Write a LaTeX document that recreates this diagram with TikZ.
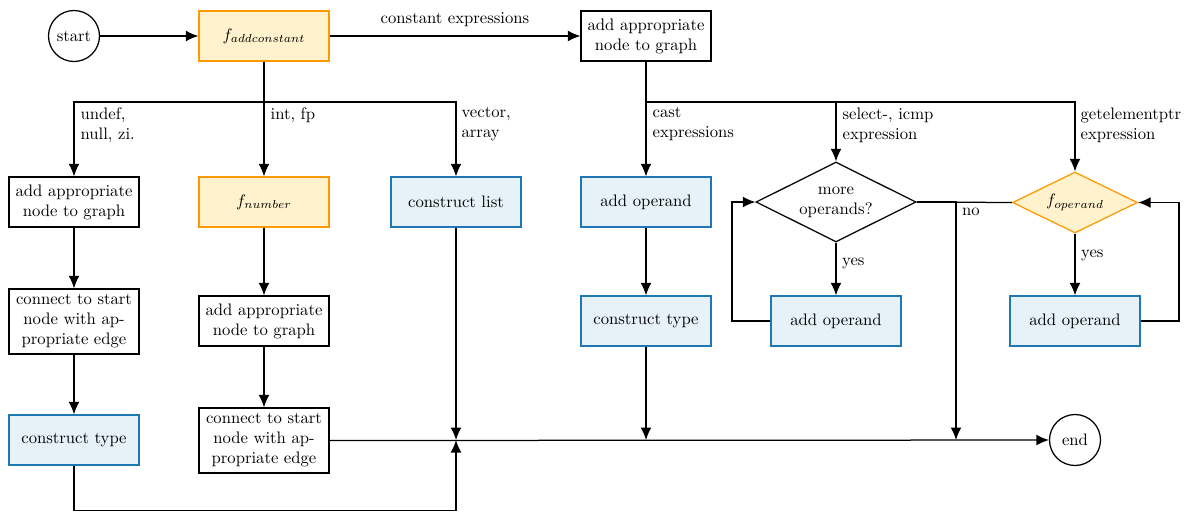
\documentclass[tikz,border=0pt]{standalone}
\usetikzlibrary{shapes.geometric,arrows.meta}
\definecolor{ofill}{RGB}{255,242,204}
\definecolor{oline}{RGB}{255,153,0}
\definecolor{bfill}{RGB}{230,242,248}
\definecolor{bline}{RGB}{31,120,180}
\begin{document}
\begin{tikzpicture}[x=0.6pt,y=-0.6pt, line width=0.75pt,
  >={Latex[length=7.5pt,width=6.5pt]},
  box/.style={draw, rectangle, minimum width=78pt, minimum height=30pt, align=center, inner sep=3pt},
  fbox/.style={box, draw=oline, fill=ofill},
  bbox/.style={box, draw=bline, fill=bfill},
  term/.style={draw, circle, minimum size=30.6pt, inner sep=1pt},
  dec/.style={draw, diamond, aspect=2, align=center, inner sep=0pt},
  lab/.style={align=left, anchor=north west, inner sep=0pt}
]
\useasboundingbox (0,0) rectangle (1189,512);
% nodes
\node[term] (start) at (74,36) {start};
\node[fbox] (fadd) at (264,36) {$f_{addconstant}$};
\node[box] (add1) at (646,36) {add appropriate\\node to graph};
\node[box] (c1a) at (74,202) {add appropriate\\node to graph};
\node[box, minimum height=39pt] (c1b) at (74,321.5) {connect to start\\node with ap-\\propriate edge};
\node[bbox] (c1c) at (74,440) {construct type};
\node[fbox] (c2a) at (264,202) {$f_{number}$};
\node[box] (c2b) at (264,321) {add appropriate\\node to graph};
\node[box, minimum height=39pt] (c2c) at (264,440.5) {connect to start\\node with ap-\\propriate edge};
\node[bbox] (c3) at (456,202) {construct list};
\node[bbox] (op1) at (646,202) {add operand};
\node[bbox] (ct) at (646,321) {construct type};
\node[dec, minimum width=96pt, minimum height=48pt] (d1) at (836,202) {more\\operands?};
\node[bbox] (op2) at (836,321) {add operand};
\node[dec, draw=oline, fill=ofill, minimum width=75pt, minimum height=36.6pt] (d2) at (1075,202.5) {$f_{operand}$};
\node[bbox] (op3) at (1075,321) {add operand};
\node[term] (end) at (1075,440) {end};
% coordinates
\coordinate (sl) at (74,102);
\coordinate (sr) at (456,102);
\coordinate (t2) at (836,102);
\coordinate (t3) at (1075,102);
\coordinate (j1) at (456,440);
\coordinate (j2) at (646,440);
\coordinate (j3) at (956,440);
\coordinate (bot) at (456,510.5);
\coordinate (lp) at (732,321);
\coordinate (rp) at (1179,321);
% connectors
\draw[->] (start) -- (fadd);
\draw[->] (fadd) -- node[above=2pt]{constant expressions} (add1);
\draw[->] (fadd.south) |- (sl) -- (c1a);
\draw[->] (fadd) -- (c2a);
\draw[->] (fadd.south) |- (sr) -- (c3);
\node[lab] at (80,107) {undef,\\null, zi.};
\node[lab] at (270,107) {int, fp};
\node[lab] at (461,107) {vector,\\array};
\draw[->] (c1a) -- (c1b);
\draw[->] (c1b) -- (c1c);
\draw[->] (c1c.south) |- (bot) -- (j1);
\draw[->] (c2a) -- (c2b);
\draw[->] (c2b) -- (c2c);
\draw[->] (c2c.east) -- (end);
\draw[->] (c3) -- (j1);
\draw[->] (add1) -- (op1);
\draw[->] (add1.south) |- (t2) -- (d1);
\draw[->] (add1.south) |- (t3) -- (d2);
\node[lab] at (652,107) {cast\\expressions};
\node[lab] at (842,107) {select-, icmp\\expression};
\node[lab] at (1080,107) {getelementptr\\expression};
\draw[->] (op1) -- (ct);
\draw[->] (ct) -- (j2);
\draw[->] (d1) -- node[right, pos=0.4]{yes} (op2);
\draw[->] (op2.west) -- (lp) |- (d1.west);
\draw (d2.west) -- (d1.east);
\draw[->] (d1.east) -| node[pos=0.5, anchor=north west]{no} (j3);
\draw[->] (d2) -- node[right, pos=0.35]{yes} (op3);
\draw[->] (op3.east) -- (rp) |- (d2.east);
\end{tikzpicture}
\end{document}
